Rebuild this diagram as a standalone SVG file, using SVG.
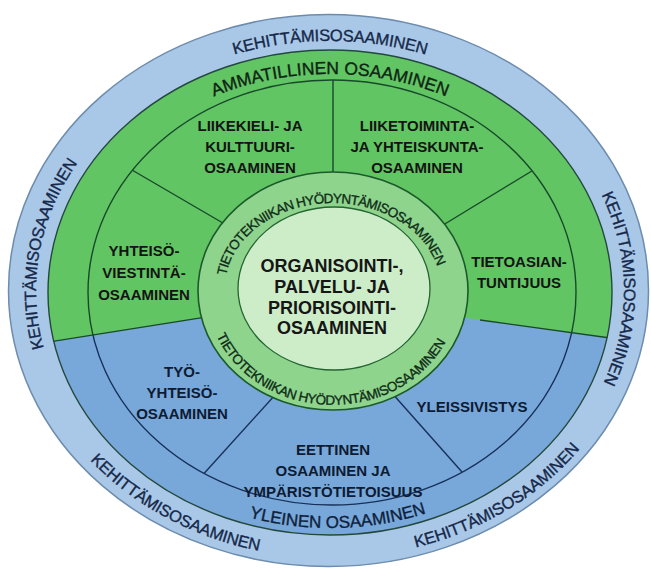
<svg xmlns="http://www.w3.org/2000/svg" width="651" height="570" viewBox="0 0 651 570">
  <style>
    .lbl { font-family: "Liberation Sans", Arial, sans-serif; font-weight: bold; font-size: 15px; text-anchor: middle; }
    .g-txt { fill: #141414; }
    .b-txt { fill: #0d1b33; }
    .ctr { font-family: "Liberation Sans", Arial, sans-serif; font-weight: bold; font-size: 18px; text-anchor: middle; fill: #161616; }
    .arc { font-family: "Liberation Sans", Arial, sans-serif; text-anchor: middle; stroke-width: 0.35px; }
    .kehit { font-size: 16.5px; fill: #16284a; stroke: #16284a; letter-spacing: -0.2px; }
    .ammat { font-size: 17.5px; fill: #0f2414; stroke: #0f2414; }
    .yleinen { font-size: 17px; fill: #0f1f3c; stroke: #0f1f3c; }
    .tieto { font-size: 13.5px; fill: #0f2c18; stroke: #0f2c18; letter-spacing: -0.5px; }
    .tieto-up { letter-spacing: -0.75px; }
    .div-g { stroke: #17492a; stroke-width: 1.4; fill: none; }
    .div-b { stroke: #17305a; stroke-width: 1.4; fill: none; }
  </style>
  <defs>
    <clipPath id="ring2Clip">
      <ellipse cx="330" cy="292.5" rx="282" ry="242.5"/>
    </clipPath>
    <clipPath id="ring3Clip">
      <ellipse cx="332" cy="292.5" rx="244" ry="212.5"/>
    </clipPath>
    <clipPath id="upperClip">
      <polygon points="0,0 651,0 651,343.7 466,318 333,300 200,318 0,349.7"/>
    </clipPath>
    <clipPath id="lowerClip">
      <polygon points="0,349.7 200,318 333,300 466,318 651,343.7 651,570 0,570"/>
    </clipPath>
    <!-- text baselines -->
    <path id="pTop" d="M 36 291 A 294 250 0 0 1 624 291"/>
    <path id="pLeft" d="M 149.0 488.0 A 294 250 0 0 1 219.9 59.2"/>
    <path id="pRight" d="M 474.8 73.4 A 294 250 0 0 1 479.2 506.4"/>
    <path id="pBotL" d="M 21.0 270.0 A 310 267 0 0 0 463.5 532.0"/>
    <path id="pBotR" d="M 211.4 537.7 A 310 267 0 0 0 637.3 256.2"/>
    <path id="pAmmat" d="M 66.5 292.5 A 263.5 218.5 0 0 1 593.5 292.5"/>
    <path id="pYleinen" d="M 55 292.5 A 275 235.5 0 0 0 605 292.5"/>
    <path id="pTietoUp" d="M 225.3 295.9 A 108 85 0 1 1 440.8 285.6"/>
    <path id="pTietoLow" d="M 208.9 312.9 A 126 113 0 0 0 454.7 320.2"/>
  </defs>

  <rect width="651" height="570" fill="#ffffff"/>

  <!-- outer ring: development competence -->
  <g id="kehittamis">
    <ellipse cx="328.5" cy="290.5" rx="320" ry="276" fill="#a9c8e8" stroke="#6d8cae" stroke-width="1.5"/>
    <text class="arc kehit"><textPath href="#pTop" startOffset="50%">KEHITTÄMISOSAAMINEN</textPath></text>
    <text class="arc kehit"><textPath href="#pLeft" startOffset="50%">KEHITTÄMISOSAAMINEN</textPath></text>
    <text class="arc kehit"><textPath href="#pRight" startOffset="50%">KEHITTÄMISOSAAMINEN</textPath></text>
    <text class="arc kehit"><textPath href="#pBotL" startOffset="50%">KEHITTÄMISOSAAMINEN</textPath></text>
    <text class="arc kehit"><textPath href="#pBotR" startOffset="50%">KEHITTÄMISOSAAMINEN</textPath></text>
  </g>

  <!-- middle ring: professional (green) and general (blue) halves -->
  <g id="ammatillinen-yleinen">
    <ellipse cx="330" cy="292.5" rx="282" ry="242.5" fill="#78a8d9"/>
    <g clip-path="url(#ring2Clip)">
      <polygon points="0,0 651,0 651,343.7 466,318 333,300 200,318 0,349.7" fill="#62c564"/>
    </g>
    <ellipse cx="330" cy="292.5" rx="282" ry="242.5" fill="none" stroke="#24483e" stroke-width="1.4"/>
    <g clip-path="url(#upperClip)">
      <ellipse cx="332" cy="292.5" rx="244" ry="212.5" class="div-g"/>
    </g>
    <g clip-path="url(#lowerClip)">
      <ellipse cx="332" cy="292.5" rx="244" ry="212.5" class="div-b"/>
    </g>
    <text class="arc ammat"><textPath href="#pAmmat" startOffset="50%">AMMATILLINEN OSAAMINEN</textPath></text>
    <text class="arc yleinen"><textPath href="#pYleinen" startOffset="51%">YLEINEN OSAAMINEN</textPath></text>
  </g>

  <!-- sector dividers -->
  <g id="connectors">
    <g clip-path="url(#ring3Clip)">
      <line x1="333" y1="70" x2="333" y2="190" class="div-g"/>
      <line x1="120" y1="163" x2="240" y2="233" class="div-g"/>
      <line x1="545" y1="163" x2="430" y2="233" class="div-g"/>
      <line x1="285" y1="384" x2="190" y2="489" class="div-b"/>
      <line x1="383" y1="383" x2="478" y2="490" class="div-b"/>
    </g>
    <g clip-path="url(#ring2Clip)">
      <line x1="40" y1="343.4" x2="215" y2="315.6" class="div-g"/>
      <line x1="480" y1="320" x2="625" y2="340.1" class="div-g"/>
    </g>
  </g>

  <!-- sector labels -->
  <g id="liikekieli">
    <text class="lbl g-txt" x="250" y="130.5">LIIKEKIELI- JA</text>
    <text class="lbl g-txt" x="250" y="152">KULTTUURI-</text>
    <text class="lbl g-txt" x="250" y="173">OSAAMINEN</text>
  </g>
  <g id="liiketoiminta">
    <text class="lbl g-txt" x="417" y="130.5">LIIKETOIMINTA-</text>
    <text class="lbl g-txt" x="417" y="152">JA YHTEISKUNTA-</text>
    <text class="lbl g-txt" x="417" y="173">OSAAMINEN</text>
  </g>
  <g id="yhteisoviestinta">
    <text class="lbl g-txt" x="144" y="256">YHTEISÖ-</text>
    <text class="lbl g-txt" x="144" y="278">VIESTINTÄ-</text>
    <text class="lbl g-txt" x="144" y="300">OSAAMINEN</text>
  </g>
  <g id="tietoasiantuntijuus">
    <text class="lbl g-txt" x="519" y="267">TIETOASIAN-</text>
    <text class="lbl g-txt" x="519" y="288">TUNTIJUUS</text>
  </g>
  <g id="tyoyhteiso">
    <text class="lbl b-txt" x="182" y="377">TYÖ-</text>
    <text class="lbl b-txt" x="182" y="398">YHTEISÖ-</text>
    <text class="lbl b-txt" x="182" y="419">OSAAMINEN</text>
  </g>
  <g id="yleissivistys">
    <text class="lbl b-txt" x="472" y="412">YLEISSIVISTYS</text>
  </g>
  <g id="eettinen">
    <text class="lbl b-txt" x="333" y="455">EETTINEN</text>
    <text class="lbl b-txt" x="333" y="476">OSAAMINEN JA</text>
    <text class="lbl b-txt" x="333" y="497">YMPÄRISTÖTIETOISUUS</text>
  </g>

  <!-- ICT ring -->
  <g id="tietotekniikka">
    <ellipse cx="333" cy="291" rx="135" ry="119" fill="#8fd48d" stroke="#1c5a2b" stroke-width="1.6"/>
    <text class="arc tieto tieto-up"><textPath href="#pTietoUp" startOffset="50%">TIETOTEKNIIKAN HYÖDYNTÄMISOSAAMINEN</textPath></text>
    <text class="arc tieto"><textPath href="#pTietoLow" startOffset="50%">TIETOTEKNIIKAN HYÖDYNTÄMISOSAAMINEN</textPath></text>
  </g>

  <!-- core -->
  <g id="organisointi">
    <ellipse cx="334" cy="288.5" rx="96" ry="81.5" fill="#cdedc9" stroke="#236430" stroke-width="1.3"/>
    <text class="ctr" x="332" y="272">ORGANISOINTI-,</text>
    <text class="ctr" x="332" y="293">PALVELU- JA</text>
    <text class="ctr" x="332" y="314">PRIORISOINTI-</text>
    <text class="ctr" x="332" y="334">OSAAMINEN</text>
  </g>
</svg>
